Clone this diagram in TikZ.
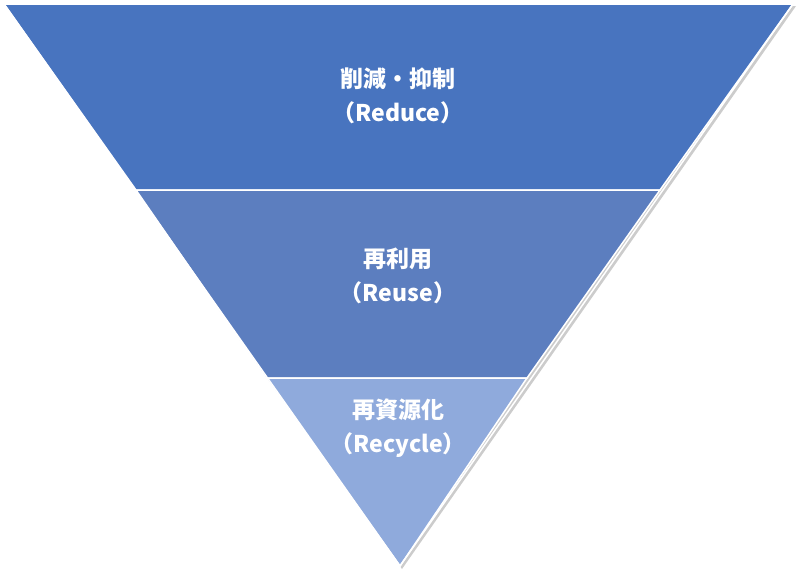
\documentclass[tikz,border=0pt]{standalone}
\usepackage{fontspec}
\newfontfamily\cjk{Noto Sans CJK JP}
\begin{document}
\begin{tikzpicture}[x=1pt,y=-1pt,
  band/.style={draw=white,line width=1.5pt},
  lbl/.style={text=white,font=\cjk\bfseries\fontsize{23}{34}\selectfont,align=center}]
\useasboundingbox (0,0) rectangle (800,576);
\fill[gray!40] (6,6) -- (796,6) -- (402,569) -- cycle;
\fill[band,fill={rgb,255:red,72;green,116;blue,191}] (4,4) -- (793,4) -- (660,190) -- (136,190) -- cycle;
\fill[band,fill={rgb,255:red,92;green,126;blue,191}] (136,190) -- (660,190) -- (527,378) -- (266,378) -- cycle;
\fill[band,fill={rgb,255:red,143;green,170;blue,220}] (266,378) -- (527,378) -- (400,566) -- cycle;
\draw[white,line width=1.5pt] (4,4) -- (793,4) -- (400,566) -- cycle;
\node[lbl] (a) at (398,96) {削減・抑制\\（Reduce）};
\node[lbl] (b) at (398,276) {再利用\\（Reuse）};
\node[lbl] (c) at (398,428) {再資源化\\（Recycle）};
\end{tikzpicture}
\end{document}
